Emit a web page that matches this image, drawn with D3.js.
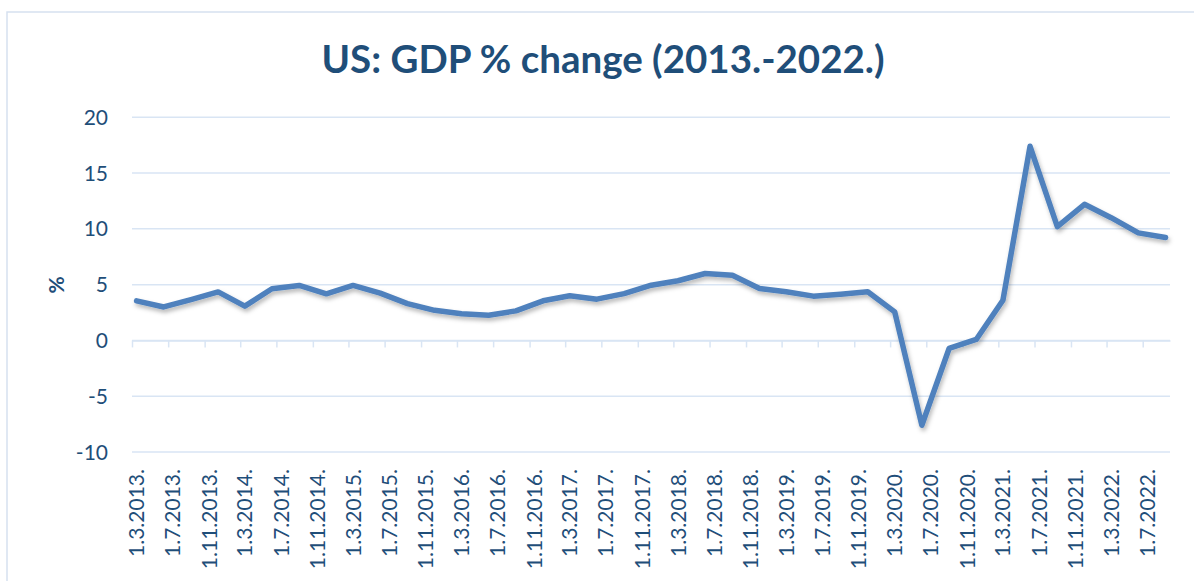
<!DOCTYPE html>
<html>
<head>
<meta charset="utf-8">
<script src="https://cdn.jsdelivr.net/npm/d3@7"></script>
<style>
  body { margin: 0; background: #fff; }
  text { font-family: Lato, "Open Sans", sans-serif; fill: #1F4E79; }
</style>
</head>
<body>
<svg id="chart" width="1194" height="581"></svg>
<script>
// quarterly observations (month of the quarter, as in the sheet)
const quarters = [
  '2013-03', '2013-06', '2013-09', '2013-12',
  '2014-03', '2014-06', '2014-09', '2014-12',
  '2015-03', '2015-06', '2015-09', '2015-12',
  '2016-03', '2016-06', '2016-09', '2016-12',
  '2017-03', '2017-06', '2017-09', '2017-12',
  '2018-03', '2018-06', '2018-09', '2018-12',
  '2019-03', '2019-06', '2019-09', '2019-12',
  '2020-03', '2020-06', '2020-09', '2020-12',
  '2021-03', '2021-06', '2021-09', '2021-12',
  '2022-03', '2022-06', '2022-09'
];
const gdpChange = [
  3.55, 3.0, 3.66, 4.35,
  3.07, 4.63, 4.93, 4.18,
  4.93, 4.24, 3.3, 2.7,
  2.4, 2.26, 2.65, 3.55,
  4.0, 3.7, 4.2, 4.95,
  5.35, 6.0, 5.85, 4.66,
  4.36, 3.97, 4.15, 4.36,
  2.56, -7.6, -0.72, 0.09,
  3.6, 17.4, 10.2, 12.2,
  11.0, 9.64, 9.23
];
const tickLabels = [
  '1.3.2013.', '1.7.2013.', '1.11.2013.',
  '1.3.2014.', '1.7.2014.', '1.11.2014.',
  '1.3.2015.', '1.7.2015.', '1.11.2015.',
  '1.3.2016.', '1.7.2016.', '1.11.2016.',
  '1.3.2017.', '1.7.2017.', '1.11.2017.',
  '1.3.2018.', '1.7.2018.', '1.11.2018.',
  '1.3.2019.', '1.7.2019.', '1.11.2019.',
  '1.3.2020.', '1.7.2020.', '1.11.2020.',
  '1.3.2021.', '1.7.2021.', '1.11.2021.',
  '1.3.2022.', '1.7.2022.'
];
const yTicks = [-10, -5, 0, 5, 10, 15, 20];

const parseMonth = d3.timeParse('%Y-%m');
const parseLabel = d3.timeParse('%d.%m.%Y.');
// Excel puts points and labels in the middle of their month
const midMonth = d => new Date((+d + +d3.timeMonth.offset(d, 1)) / 2);

const svg = d3.select('#chart');
const left = 132, right = 1170;

const x = d3.scaleTime()
  .domain([new Date(2013, 2, 1), new Date(2022, 9, 1)])
  .range([left, right]);
const y = d3.scaleLinear().domain([-10, 20]).range([452, 117.3]);

const defs = svg.append('defs');
defs.append('filter')
  .attr('id', 'shadow')
  .attr('x', '-5%').attr('y', '-20%').attr('width', '110%').attr('height', '140%')
  .append('feDropShadow')
  .attr('dx', 1.5).attr('dy', 3).attr('stdDeviation', 2)
  .attr('flood-color', '#000').attr('flood-opacity', 0.28);

// chart area frame
svg.append('rect')
  .attr('x', 7).attr('y', 12)
  .attr('width', 1200).attr('height', 600)
  .attr('fill', 'none')
  .attr('stroke', '#D6E1F0')
  .attr('stroke-width', 1.5);

svg.append('text')
  .attr('x', 603).attr('y', 73)
  .attr('text-anchor', 'middle')
  .style('font-weight', 700)
  .style('font-size', '38.5px')
  .text('US: GDP % change (2013.-2022.)');

// gridlines
svg.append('g')
  .selectAll('line')
  .data(yTicks)
  .enter()
  .append('line')
  .attr('x1', left).attr('x2', right)
  .attr('y1', d => y(d)).attr('y2', d => y(d))
  .attr('stroke', '#D9E5F4')
  .attr('stroke-width', 1.5);

svg.append('g')
  .selectAll('text')
  .data(yTicks)
  .enter()
  .append('text')
  .attr('x', 108)
  .attr('y', d => y(d))
  .attr('dy', '0.36em')
  .attr('text-anchor', 'end')
  .style('font-size', '21px')
  .text(d => d);

svg.append('text')
  .attr('transform', 'translate(56,285) rotate(-90)')
  .attr('dy', '0.36em')
  .attr('text-anchor', 'middle')
  .style('font-weight', 700)
  .style('font-size', '21px')
  .text('%');

// x axis sits on zero
const tickDates = tickLabels.map(parseLabel);
const xAxis = svg.append('g')
  .attr('transform', `translate(0,${y(0)})`)
  .call(d3.axisBottom(x).tickValues(tickDates).tickSize(7).tickFormat('').tickSizeOuter(0));
xAxis.select('.domain').attr('stroke', '#D9E5F4').attr('stroke-width', 1.5);
xAxis.selectAll('.tick line').attr('stroke', '#D9E5F4').attr('stroke-width', 1.5);

svg.append('g')
  .selectAll('text')
  .data(tickLabels)
  .enter()
  .append('text')
  .attr('transform', d => `translate(${x(midMonth(parseLabel(d)))},469) rotate(-90)`)
  .attr('dy', '0.36em')
  .attr('text-anchor', 'end')
  .style('font-size', '21px')
  .text(d => d);

const series = quarters.map((q, i) => ({ date: midMonth(parseMonth(q)), value: gdpChange[i] }));
const line = d3.line().x(d => x(d.date)).y(d => y(d.value));

svg.append('path')
  .datum(series)
  .attr('d', line)
  .attr('fill', 'none')
  .attr('stroke', '#4F81BD')
  .attr('stroke-width', 5.5)
  .attr('stroke-linejoin', 'round')
  .attr('stroke-linecap', 'round')
  .attr('filter', 'url(#shadow)');
</script>
</body>
</html>
